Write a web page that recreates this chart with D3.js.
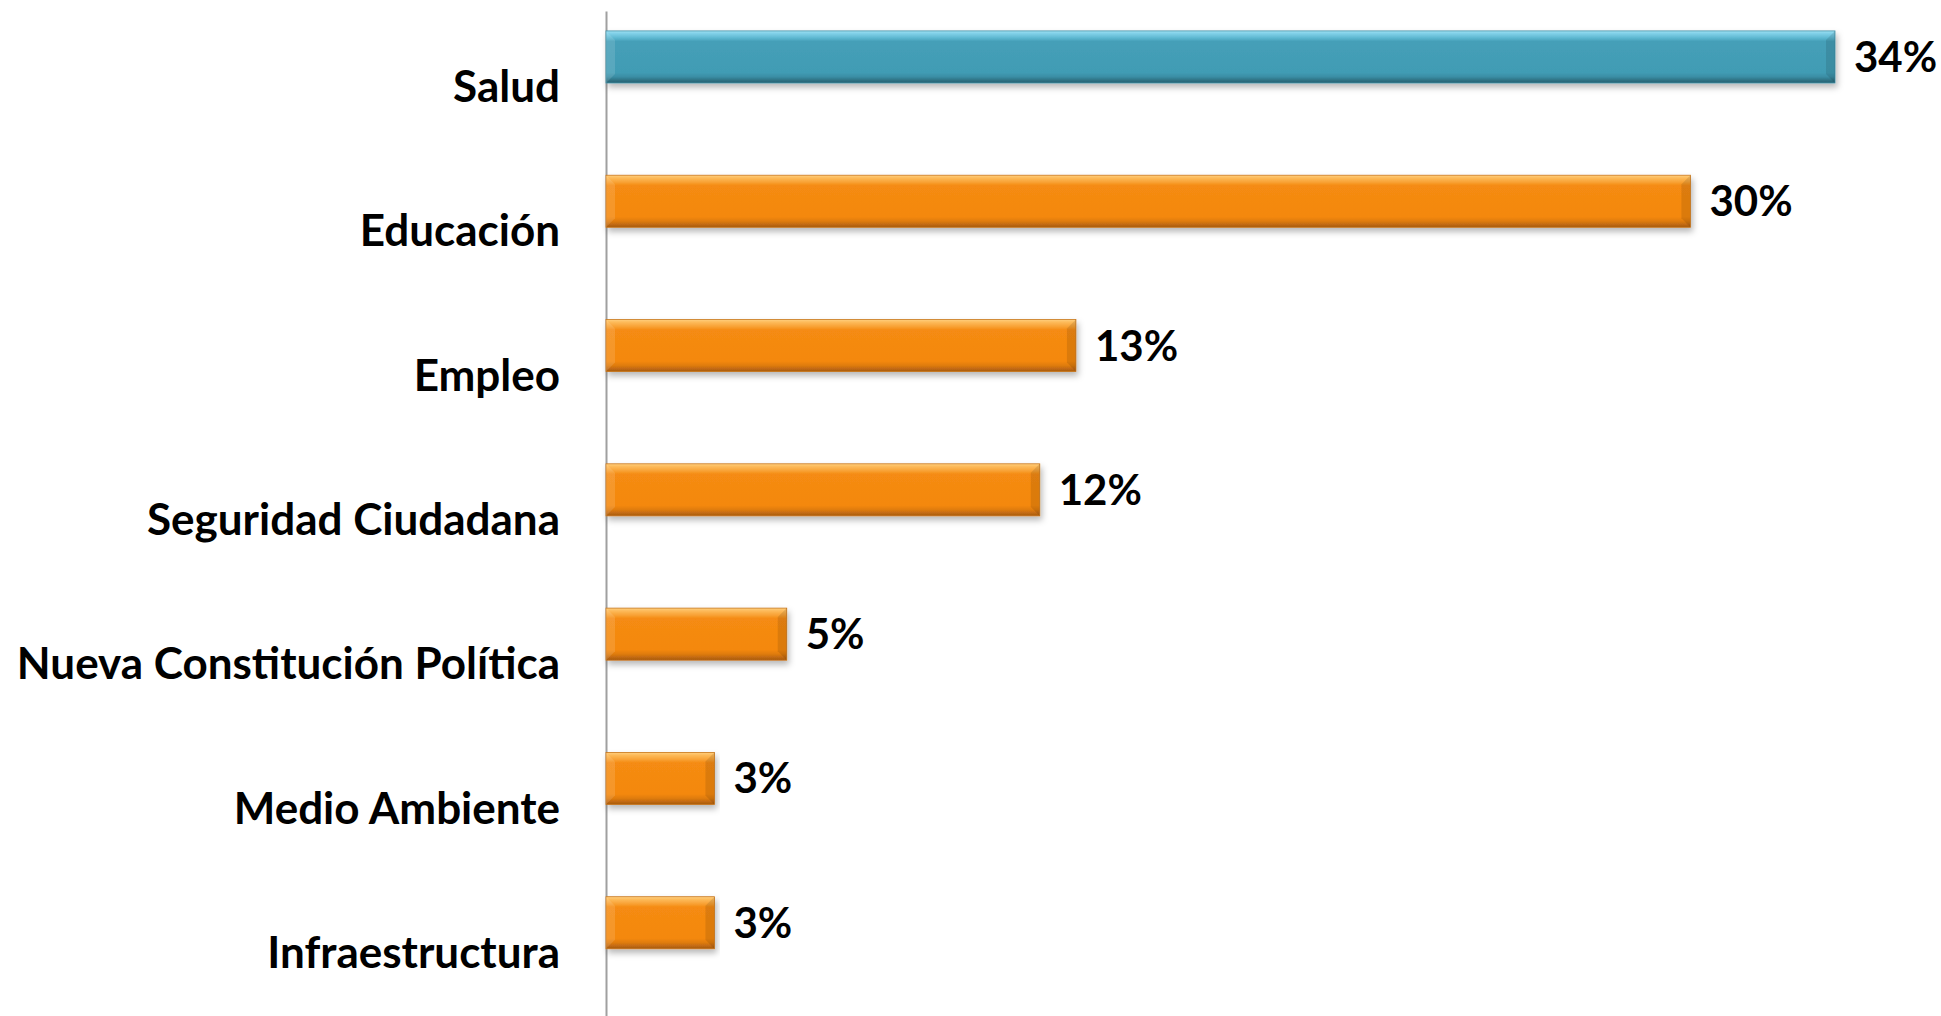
<!DOCTYPE html>
<html><head><meta charset="utf-8">
<script src="https://cdn.jsdelivr.net/npm/d3@7"></script>
<style>body{margin:0;background:#fff;overflow:hidden}</style>
</head><body><svg id="c" width="1941" height="1016"></svg>
<script>
const categories = ["Salud","Educación","Empleo","Seguridad Ciudadana","Nueva Constitución Política","Medio Ambiente","Infraestructura"];
const values = [34,30,13,12,5,3,3];
const valueLabels = ["34%","30%","13%","12%","5%","3%","3%"];
const highlighted = ["Salud"];

const svg = d3.select("#c");
const FONT = "Lato, 'Open Sans', sans-serif";

const x = d3.scaleLinear().domain([0,34]).range([606,1835]);
const y = d3.scaleBand().domain(categories).range([11, 11+7*144.3]).padding(0);
const sub = d3.scaleBand().domain(["value","blank"]).range([0,y.bandwidth()]).paddingInner(0.006).paddingOuter(0.38);

const data = categories.map((c,i)=>({cat:c,v:values[i],lab:valueLabels[i],hl:highlighted.includes(c)}));

const defs = svg.append("defs");
function grad(id, stops){
  const g = defs.append("linearGradient").attr("id",id).attr("x1",0).attr("y1",0).attr("x2",0).attr("y2",1);
  stops.forEach(s=>g.append("stop").attr("offset",s[0]).attr("stop-color",s[1]));
}
grad("gBlue",[[0,"#9fe0f2"],[0.05,"#80d0e8"],[0.14,"#5cb6cf"],[0.2,"#459fb8"],[0.8,"#419cb4"],[0.88,"#3a8ea5"],[0.94,"#2f7587"],[1,"#2a6272"]]);
grad("gOrange",[[0,"#ffd080"],[0.05,"#fdbb5b"],[0.14,"#f8a032"],[0.2,"#f58b12"],[0.8,"#f4880f"],[0.88,"#e07c10"],[0.94,"#c46b12"],[1,"#a65a10"]]);
const f = defs.append("filter").attr("id","sh").attr("x","-5%").attr("y","-20%").attr("width","110%").attr("height","160%");
f.append("feDropShadow").attr("dx",2).attr("dy",4).attr("stdDeviation",3).attr("flood-color","#000").attr("flood-opacity",0.28);

// axis line
svg.append("g").attr("transform","translate(606,0)")
  .call(d3.axisLeft(y).tickSize(0).tickFormat(""))
  .call(g=>g.select(".domain").attr("stroke","#a0a0a0").attr("stroke-width",2));

const bars = svg.append("g").selectAll("g").data(data).join("g");
const bh = sub.bandwidth();
bars.append("rect")
  .attr("x",x(0)).attr("y",d=>y(d.cat)+sub("value"))
  .attr("width",d=>x(d.v)-x(0)).attr("height",bh)
  .attr("fill",d=>d.hl?"url(#gBlue)":"url(#gOrange)")
  .attr("stroke",d=>d.hl?"#3f8fa5":"#c9761a").attr("stroke-width",0.8)
  .attr("filter","url(#sh)");
// bevels (left light, right dark)
const bev = 9;
bars.append("path")
  .attr("d",d=>{const x0=x(0),y0=y(d.cat)+sub("value");return `M${x0},${y0}L${x0+bev},${y0+bev}L${x0+bev},${y0+bh-bev}L${x0},${y0+bh}Z`;})
  .attr("fill","#fff").attr("opacity",0.12);
bars.append("path")
  .attr("d",d=>{const x1=x(d.v),y0=y(d.cat)+sub("value");return `M${x1},${y0}L${x1-bev},${y0+bev}L${x1-bev},${y0+bh-bev}L${x1},${y0+bh}Z`;})
  .attr("fill","#000").attr("opacity",0.1);

// category labels
svg.append("g").selectAll("text").data(data).join("text")
  .attr("x",560).attr("y",d=>y(d.cat)+y.bandwidth()/2+19)
  .attr("text-anchor","end")
  .attr("font-family",FONT).attr("font-weight",700).attr("font-size",44)
  .attr("fill","#000").text(d=>d.cat);

// value labels
svg.append("g").selectAll("text").data(data).join("text")
  .attr("x",d=>x(d.v)+19).attr("y",d=>y(d.cat)+sub("value")+bh/2+15)
  .attr("font-family",FONT).attr("font-weight",700).attr("font-size",42)
  .attr("fill","#000").text(d=>d.lab);
</script></body></html>
